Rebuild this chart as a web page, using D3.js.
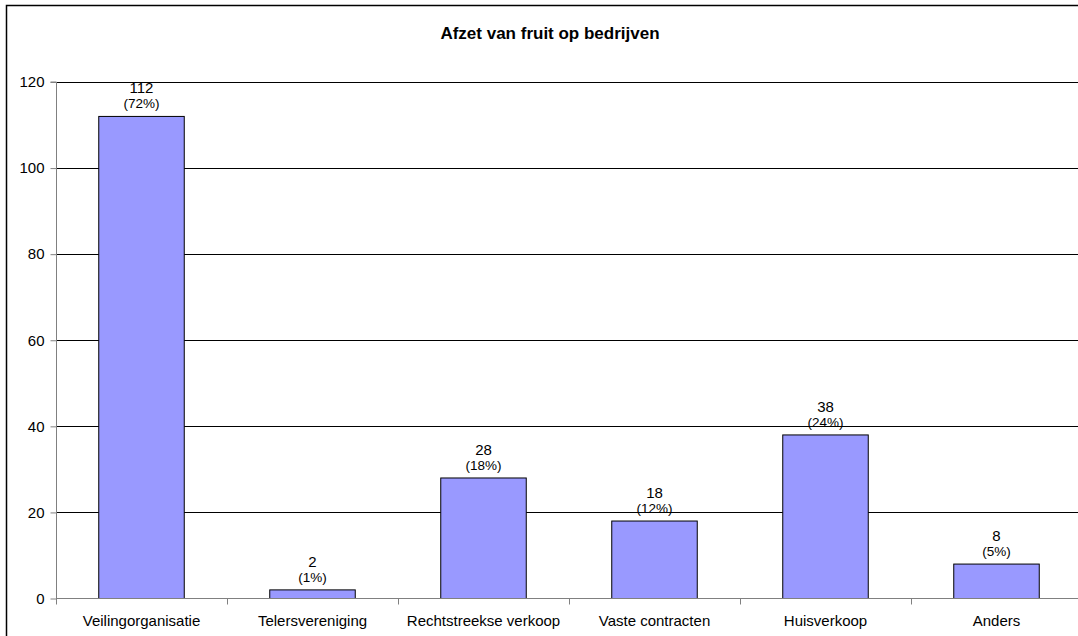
<!DOCTYPE html>
<html>
<head>
<meta charset="utf-8">
<script src="https://cdn.jsdelivr.net/npm/d3@7"></script>
<style>
  html, body { margin: 0; padding: 0; background: #fff; }
  svg { display: block; font-family: "Liberation Sans", Arial, sans-serif; }
</style>
</head>
<body>
<svg id="chart" width="1078" height="636"></svg>
<script>
const title = "Afzet van fruit op bedrijven";
const categories = ["Veilingorganisatie", "Telersvereniging", "Rechtstreekse verkoop", "Vaste contracten", "Huisverkoop", "Anders"];
const values = [112, 2, 28, 18, 38, 8];
const percents = ["72%", "1%", "18%", "12%", "24%", "5%"];
const yTicks = [0, 20, 40, 60, 80, 100, 120];

const svg = d3.select("#chart");
const W = 1078, H = 636;
const plot = { left: 56, right: 1082, top: 82, bottom: 598.5 };

svg.append("rect").attr("width", W).attr("height", H).attr("fill", "#fff");
// outer chart border (extends beyond view, cropped)
svg.append("rect")
  .attr("x", 6.5).attr("y", 5.5).attr("width", 1200).attr("height", 1200)
  .attr("fill", "none").attr("stroke", "#000").attr("stroke-width", 1.5);

svg.append("text")
  .attr("x", 550).attr("y", 39)
  .attr("text-anchor", "middle")
  .attr("font-size", 17).attr("font-weight", "bold")
  .text(title);

const x = d3.scaleBand().domain(categories)
  .range([plot.left, plot.right]).paddingInner(0.5).paddingOuter(0.25);
const y = d3.scaleLinear().domain([0, 120]).range([plot.bottom, plot.top]);

// gridlines
svg.append("g").selectAll("line").data(yTicks.filter(d => d > 0)).join("line")
  .attr("x1", plot.left).attr("x2", plot.right)
  .attr("y1", d => Math.round(y(d)) + 0.5).attr("y2", d => Math.round(y(d)) + 0.5)
  .attr("stroke", "#000").attr("stroke-width", 1);

// bars
svg.append("g").selectAll("rect").data(values).join("rect")
  .attr("x", (d, i) => x(categories[i]))
  .attr("y", d => y(d))
  .attr("width", x.bandwidth())
  .attr("height", d => y(0) - y(d))
  .attr("fill", "#9999FF").attr("stroke", "#000").attr("stroke-width", 1);

// y axis
const yAxis = d3.axisLeft(y).tickValues(yTicks).tickSize(6).tickPadding(6);
const gy = svg.append("g").attr("transform", `translate(${plot.left + 0.5},0)`).call(yAxis);
gy.select(".domain").attr("stroke", "#808080").attr("d", `M-6,${y(120)}H0V${y(0)}`);
gy.selectAll(".tick line").attr("stroke", "#808080");
gy.selectAll(".tick text").attr("font-size", 15).attr("fill", "#000")
  .attr("font-family", "Liberation Sans, Arial, sans-serif");

// x axis
const gx = svg.append("g").attr("transform", `translate(0,${plot.bottom})`);
gx.append("line").attr("x1", plot.left).attr("x2", plot.right)
  .attr("stroke", "#808080").attr("stroke-width", 1);
const boundaries = d3.range(categories.length + 1).map(i => plot.left + i * x.step());
gx.selectAll("line.tk").data(boundaries).join("line").attr("class", "tk")
  .attr("x1", d => Math.round(d) + 0.5).attr("x2", d => Math.round(d) + 0.5)
  .attr("y1", 0).attr("y2", 6).attr("stroke", "#808080");
gx.selectAll("text").data(categories).join("text")
  .attr("x", d => x(d) + x.bandwidth() / 2)
  .attr("y", 27)
  .attr("text-anchor", "middle").attr("font-size", 15)
  .text(d => d);

// value labels
const lbl = svg.append("g");
lbl.selectAll("text.v").data(values).join("text").attr("class", "v")
  .attr("x", (d, i) => x(categories[i]) + x.bandwidth() / 2)
  .attr("y", d => y(d) - 23)
  .attr("text-anchor", "middle").attr("font-size", 15)
  .text(d => d);
lbl.selectAll("text.p").data(percents).join("text").attr("class", "p")
  .attr("x", (d, i) => x(categories[i]) + x.bandwidth() / 2)
  .attr("y", (d, i) => y(values[i]) - 8)
  .attr("text-anchor", "middle").attr("font-size", 13.5)
  .text(d => "(" + d + ")");
</script>
</body>
</html>
